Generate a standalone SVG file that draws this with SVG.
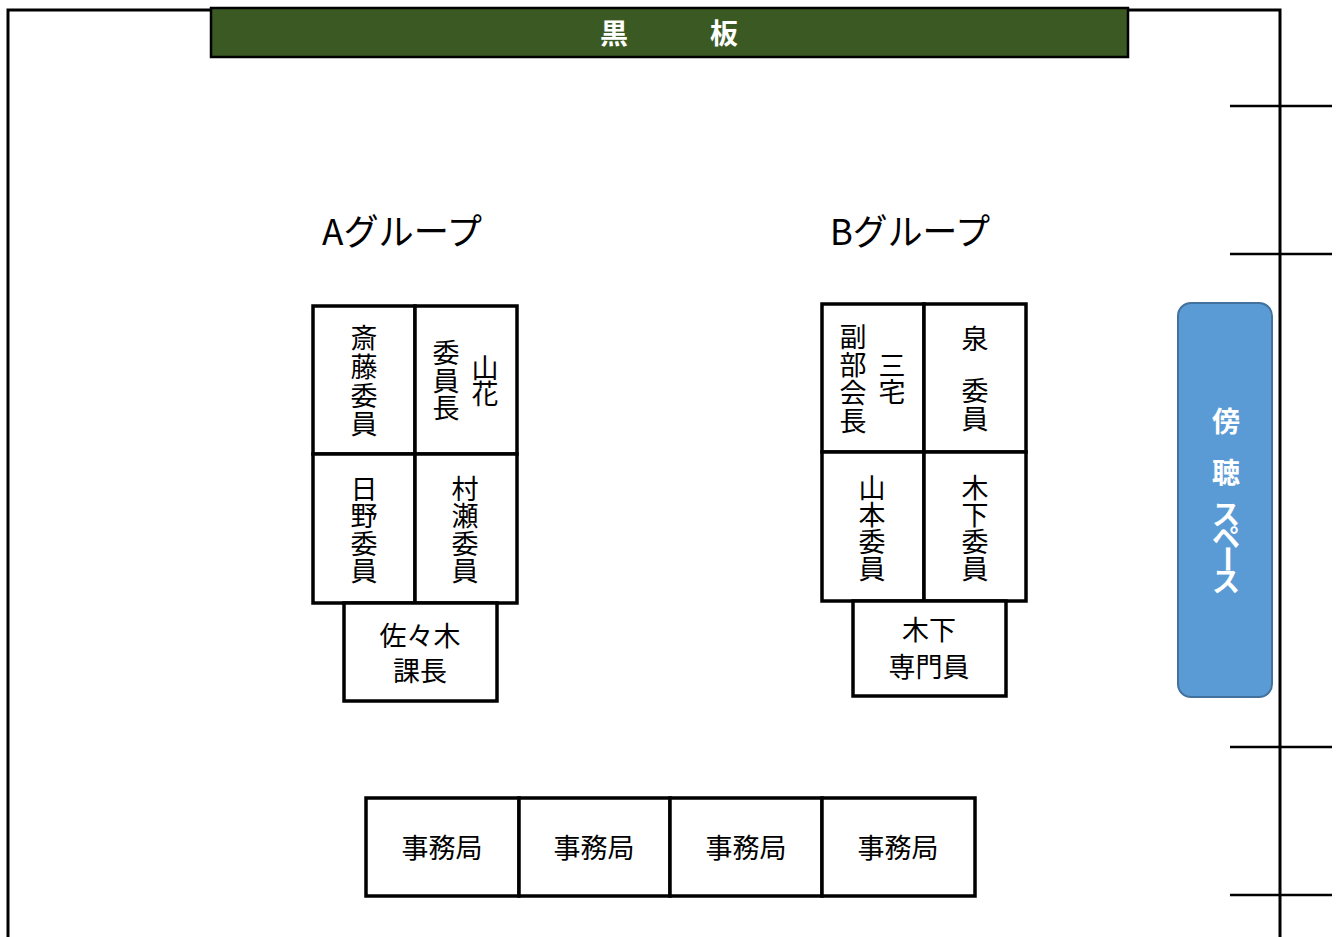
<svg xmlns="http://www.w3.org/2000/svg" width="1340" height="937" viewBox="0 0 1340 937">
<style>
.room{fill:none;stroke:#000;stroke-width:3}
.tick{stroke:#000;stroke-width:2.5}
.cell{fill:#fff;stroke:#000;stroke-width:3.5}
.t{font-family:"Noto Sans CJK JP","Noto Sans",sans-serif;font-size:27px;fill:#000;text-anchor:middle}
.lbl{font-family:"Noto Sans CJK JP","Noto Sans",sans-serif;font-size:36px;fill:#000}
.w{font-family:"Noto Sans CJK JP","Noto Sans",sans-serif;font-size:28px;font-weight:bold;fill:#fff;text-anchor:middle}
</style>
<rect width="1340" height="937" fill="#fff"/>
<g id="room">
<polyline class="room" points="8,937 8,10 1280,10 1280,937"/>
<line class="tick" x1="1230" y1="106" x2="1332" y2="106"/>
<line class="tick" x1="1230" y1="254" x2="1332" y2="254"/>
<line class="tick" x1="1230" y1="747" x2="1332" y2="747"/>
<line class="tick" x1="1230" y1="895" x2="1332" y2="895"/>
</g>
<g id="blackboard">
<rect x="211" y="8" width="917" height="49" fill="#3B5A23" stroke="#000" stroke-width="2.5"/>
<text class="w" x="614" y="44">黒</text>
<text class="w" x="724" y="44">板</text>
</g>
<g id="label-a"><text class="lbl" x="322" y="245" textLength="160" lengthAdjust="spacingAndGlyphs">Aグループ</text></g>
<g id="label-b"><text class="lbl" x="830" y="245" textLength="160" lengthAdjust="spacingAndGlyphs">Bグループ</text></g>
<g id="group-a">
<rect class="cell" x="313" y="306" width="102" height="148"/>
<rect class="cell" x="415" y="306" width="102" height="148"/>
<rect class="cell" x="313" y="454" width="102" height="149"/>
<rect class="cell" x="415" y="454" width="102" height="149"/>
<rect class="cell" x="344" y="603" width="153" height="98"/>
<text class="t"><tspan x="364" y="348">斎</tspan><tspan x="364" y="377">藤</tspan><tspan x="364" y="406">委</tspan><tspan x="364" y="434">員</tspan></text>
<text class="t"><tspan x="485" y="378">山</tspan><tspan x="485" y="404">花</tspan></text>
<text class="t"><tspan x="446" y="363">委</tspan><tspan x="446" y="391">員</tspan><tspan x="446" y="418">長</tspan></text>
<text class="t"><tspan x="364" y="499">日</tspan><tspan x="364" y="526">野</tspan><tspan x="364" y="554">委</tspan><tspan x="364" y="581">員</tspan></text>
<text class="t"><tspan x="465" y="499">村</tspan><tspan x="465" y="526">瀬</tspan><tspan x="465" y="554">委</tspan><tspan x="465" y="581">員</tspan></text>
<text class="t"><tspan x="420" y="646">佐々木</tspan><tspan x="420" y="681">課長</tspan></text>
</g>
<g id="group-b">
<rect class="cell" x="822" y="304" width="102" height="148"/>
<rect class="cell" x="924" y="304" width="102" height="148"/>
<rect class="cell" x="822" y="452" width="102" height="149"/>
<rect class="cell" x="924" y="452" width="102" height="149"/>
<rect class="cell" x="853" y="601" width="153" height="95"/>
<text class="t"><tspan x="853" y="347">副</tspan><tspan x="853" y="375">部</tspan><tspan x="853" y="403">会</tspan><tspan x="853" y="431">長</tspan></text>
<text class="t"><tspan x="892" y="376">三</tspan><tspan x="892" y="402">宅</tspan></text>
<text class="t"><tspan x="975" y="349">泉</tspan><tspan x="975" y="401">委</tspan><tspan x="975" y="429">員</tspan></text>
<text class="t"><tspan x="872" y="498">山</tspan><tspan x="872" y="525">本</tspan><tspan x="872" y="552">委</tspan><tspan x="872" y="579">員</tspan></text>
<text class="t"><tspan x="975" y="498">木</tspan><tspan x="975" y="525">下</tspan><tspan x="975" y="552">委</tspan><tspan x="975" y="579">員</tspan></text>
<text class="t"><tspan x="929" y="640">木下</tspan><tspan x="929" y="677">専門員</tspan></text>
</g>
<g id="secretariat">
<rect class="cell" x="366" y="798" width="153" height="98"/>
<rect class="cell" x="519" y="798" width="151" height="98"/>
<rect class="cell" x="670" y="798" width="152" height="98"/>
<rect class="cell" x="822" y="798" width="153" height="98"/>
<text class="t" x="442" y="858" font-size="28">事務局</text>
<text class="t" x="594" y="858" font-size="28">事務局</text>
<text class="t" x="746" y="858" font-size="28">事務局</text>
<text class="t" x="898" y="858" font-size="28">事務局</text>
</g>
<g id="gallery">
<rect x="1178" y="303" width="94" height="394" rx="13" fill="#5B9BD5" stroke="#41719C" stroke-width="2"/>
<text class="w" x="1226" y="432">傍</text>
<text class="w" x="1226" y="483">聴</text>
<text class="w" x="1226" y="525" font-size="26">ス</text>
<text class="w" x="1226" y="548" font-size="26">ペ</text>
<text class="w" x="1226" y="559" font-size="26" transform="rotate(90 1226 559)" dy="9">ー</text>
<text class="w" x="1226" y="592" font-size="26">ス</text>
</g>
</svg>
